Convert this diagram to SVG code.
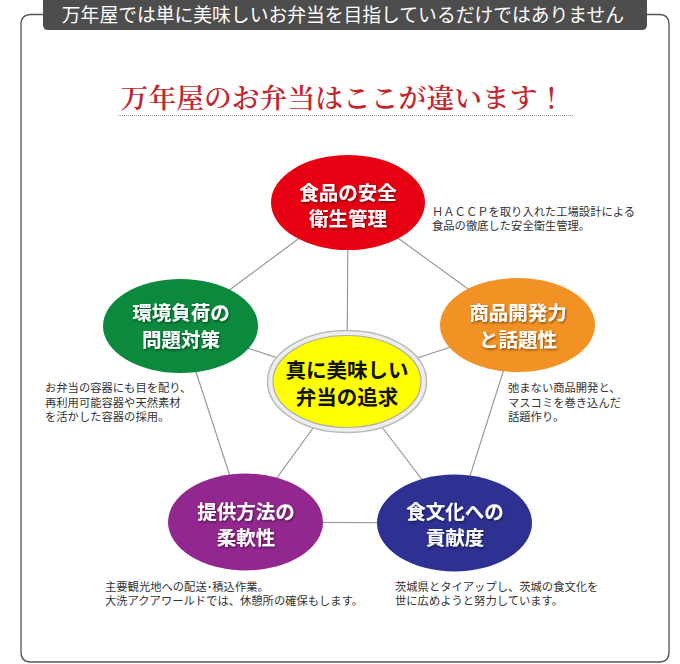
<svg xmlns="http://www.w3.org/2000/svg" width="680" height="664" viewBox="0 0 680 664">
<defs>
<filter id="ts" x="-10%" y="-20%" width="130%" height="150%">
<feDropShadow dx="1" dy="1.5" stdDeviation="1" flood-color="#000" flood-opacity="0.45"/>
</filter>
<style>
.lbl{font-family:"Noto Sans CJK JP","Noto Sans",sans-serif;font-weight:bold;font-size:19.5px;fill:#fff;text-anchor:middle}
.desc{font-family:"Noto Sans CJK JP","Noto Sans",sans-serif;font-size:11.3px;fill:#333}
.conn line{stroke:#999;stroke-width:1.2}
</style>
</defs>
<rect width="680" height="664" fill="#fff"/>
<path d="M43,14.5 H31 Q21,14.5 21,24.5 V652 Q21,662 31,662 H659 Q669,662 669,652 V24.5 Q669,14.5 659,14.5 H647" fill="none" stroke="#555" stroke-width="1.3"/>
<path d="M43,0 H647 V25 Q647,30 642,30 H48 Q43,30 43,25 Z" fill="#4d4d4d"/>
<text x="343" y="22" font-family="'Noto Sans CJK JP','Noto Sans',sans-serif" font-size="18.8" fill="#fff" text-anchor="middle">万年屋では単に美味しいお弁当を目指しているだけではありません</text>
<text x="343" y="108" font-family="'Noto Serif CJK JP','Liberation Serif','Noto Sans CJK JP',serif" font-size="27.8" font-weight="600" fill="#c1272d" text-anchor="middle">万年屋のお弁当はここが違います！</text>
<line x1="118" y1="115.5" x2="574" y2="115.5" stroke="#999" stroke-width="1" stroke-dasharray="1,1"/>
<g class="conn">
<line x1="348" y1="202" x2="181" y2="326"/>
<line x1="348" y1="202" x2="518" y2="325"/>
<line x1="181" y1="326" x2="245" y2="522"/>
<line x1="518" y1="325" x2="455" y2="523"/>
<line x1="245" y1="522" x2="455" y2="523"/>
<line x1="347" y1="381" x2="348" y2="202"/>
<line x1="347" y1="381" x2="181" y2="326"/>
<line x1="347" y1="381" x2="518" y2="325"/>
<line x1="347" y1="381" x2="245" y2="522"/>
<line x1="347" y1="381" x2="455" y2="523"/>
</g>
<g id="food-safety">
<ellipse cx="348" cy="202.5" rx="77" ry="47.5" fill="#e60012"/>
<text class="lbl" x="348" y="200" filter="url(#ts)">食品の安全</text>
<text class="lbl" x="348" y="226" filter="url(#ts)">衛生管理</text>
<text class="desc" x="432" y="216">ＨＡＣＣＰを取り入れた工場設計による</text>
<text class="desc" x="432" y="230">食品の徹底した安全衛生管理。</text>
</g>
<g id="environment">
<ellipse cx="180.5" cy="326" rx="77.5" ry="47" fill="#0b8a3e"/>
<text class="lbl" x="181" y="320" filter="url(#ts)">環境負荷の</text>
<text class="lbl" x="181" y="347" filter="url(#ts)">問題対策</text>
<text class="desc" x="45" y="392">お弁当の容器にも目を配り、</text>
<text class="desc" x="45" y="406.5">再利用可能容器や天然素材</text>
<text class="desc" x="45" y="421">を活かした容器の採用。</text>
</g>
<g id="product">
<ellipse cx="517.5" cy="325" rx="77.5" ry="47" fill="#f39224"/>
<text class="lbl" x="518" y="320" filter="url(#ts)">商品開発力</text>
<text class="lbl" x="518" y="347" filter="url(#ts)">と話題性</text>
<text class="desc" x="508" y="392">弛まない商品開発と、</text>
<text class="desc" x="508" y="406.5">マスコミを巻き込んだ</text>
<text class="desc" x="508" y="421">話題作り。</text>
</g>
<g id="delivery">
<ellipse cx="245.5" cy="522" rx="77.5" ry="48.5" fill="#92278f"/>
<text class="lbl" x="246" y="519" filter="url(#ts)">提供方法の</text>
<text class="lbl" x="246" y="545" filter="url(#ts)">柔軟性</text>
<text class="desc" x="105" y="591">主要観光地への配送･積込作業。</text>
<text class="desc" x="105" y="605">大洗アクアワールドでは、休憩所の確保もします。</text>
</g>
<g id="culture">
<ellipse cx="454.5" cy="523" rx="77.5" ry="48.5" fill="#2e3192"/>
<text class="lbl" x="455" y="519" filter="url(#ts)">食文化への</text>
<text class="lbl" x="455" y="545" filter="url(#ts)">貢献度</text>
<text class="desc" x="395" y="591">茨城県とタイアップし、茨城の食文化を</text>
<text class="desc" x="395" y="605">世に広めようと努力しています。</text>
</g>
<g id="center">
<ellipse cx="347" cy="381.5" rx="79.5" ry="51" fill="#eee" stroke="#bbb" stroke-width="1.5"/>
<ellipse cx="347" cy="381.5" rx="74" ry="46" fill="#ffff00" stroke="#aaa" stroke-width="1.2"/>
<text class="lbl" x="347" y="378" style="fill:#111;font-size:20.5px">真に美味しい</text>
<text class="lbl" x="347" y="405" style="fill:#111;font-size:20.5px">弁当の追求</text>
</g>
</svg>
